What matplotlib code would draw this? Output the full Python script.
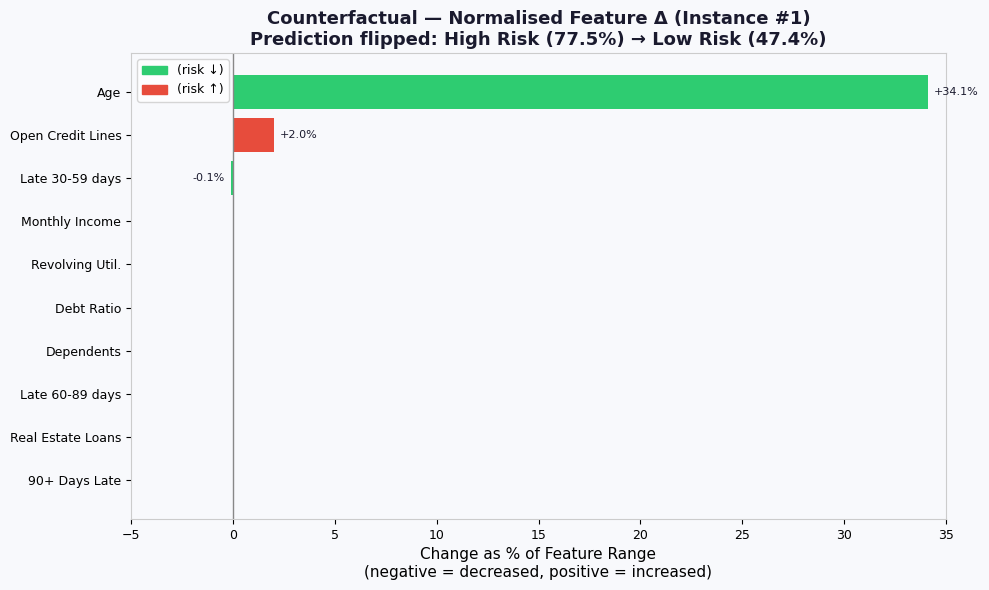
import matplotlib
matplotlib.use("Agg")
import matplotlib.pyplot as plt
from matplotlib.patches import Patch

features = ["Age", "Open Credit Lines", "Late 30-59 days", "Monthly Income",
            "Revolving Util.", "Debt Ratio", "Dependents", "Late 60-89 days",
            "Real Estate Loans", "90+ Days Late"]
deltas = [34.1, 2.0, -0.1, 0.0, 0.0, 0.0, 0.0, 0.0, 0.0, 0.0]
risk_down = [True, False, True, True, True, True, True, True, True, True]

GREEN = "#2ecc71"
RED = "#e74c3c"
BG = "#f8f9fc"
DARK = "#1a1a2e"

fig = plt.figure(figsize=(9.89, 5.9), dpi=100, facecolor=BG)
ax = fig.add_axes([131/989, 1-519/590, (946-131)/989, (519-53)/590])
ax.set_facecolor(BG)

ypos = list(range(len(features)))[::-1]
colors = [GREEN if d else RED for d in risk_down]
ax.barh(ypos, deltas, color=colors, height=0.78)
for y, v in zip(ypos, deltas):
    if abs(v) > 1e-9:
        if v > 0:
            ax.text(v + 0.3, y, f"+{v:.1f}%", va="center", ha="left", fontsize=8, color=DARK)
        else:
            ax.text(v - 0.3, y, f"{v:.1f}%", va="center", ha="right", fontsize=8, color=DARK)

ax.axvline(0, color="#888888", linewidth=1)
ax.set_yticks(ypos)
ax.set_yticklabels(features, fontsize=9)
ax.set_xlim(-5, 35)
ax.set_ylim(-0.9, 9.9)
ax.tick_params(axis="x", labelsize=9)
for s in ax.spines.values():
    s.set_color("#cccccc")
ax.set_xlabel("Change as % of Feature Range\n(negative = decreased, positive = increased)", fontsize=11)
ax.set_title("Counterfactual — Normalised Feature Δ (Instance #1)\nPrediction flipped: High Risk (77.5%) → Low Risk (47.4%)",
             fontsize=13, fontweight="bold", color=DARK)
handles = [Patch(color=GREEN, label="(risk ↓)"), Patch(color=RED, label="(risk ↑)")]
ax.legend(handles=handles, loc="upper left", fontsize=9)

fig.savefig("out.png", dpi=100, facecolor=BG)
